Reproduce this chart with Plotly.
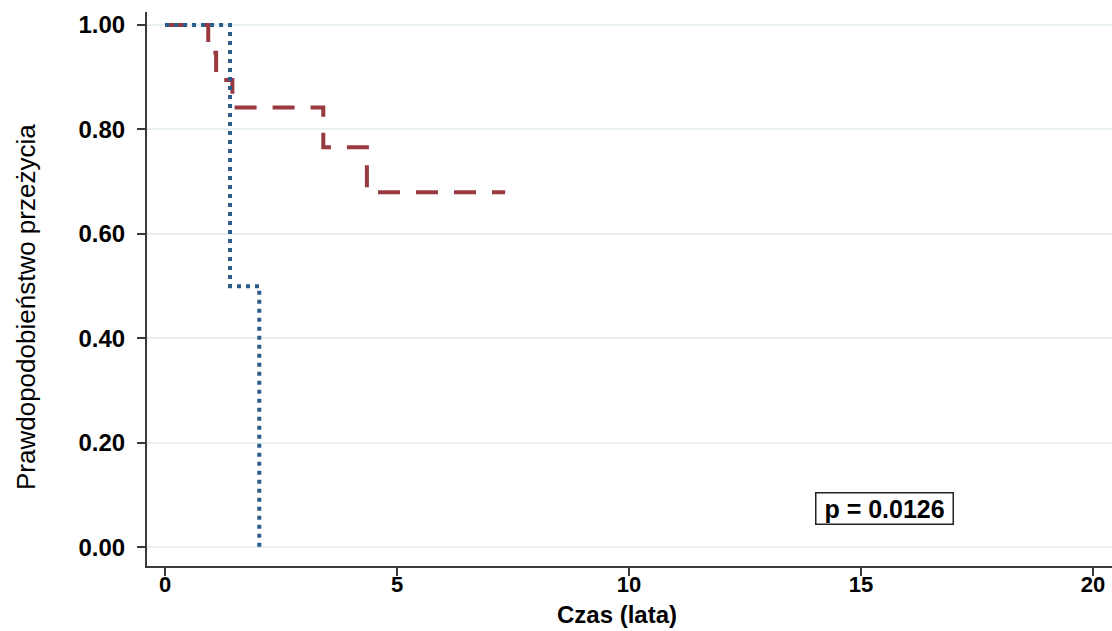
import plotly.graph_objects as go

# Kaplan-Meier step data (time in years, survival probability)
red_time = [0.0, 0.93, 1.10, 1.45, 3.41, 4.35, 7.33]
red_surv = [1.0, 0.947, 0.895, 0.842, 0.766, 0.680, 0.680]

blue_time = [0.0, 1.40, 2.03]
blue_surv = [1.0, 0.50, 0.00]

x_ticks = [0, 5, 10, 15, 20]
y_ticks = [0.0, 0.2, 0.4, 0.6, 0.8, 1.0]
y_labels = ["0.00", "0.20", "0.40", "0.60", "0.80", "1.00"]

p_text = "p = 0.0126"
x_title = "Czas (lata)"
y_title = "Prawdopodobieństwo przeżycia"

FONT = "Liberation Sans, Arial, sans-serif"

fig = go.Figure()
fig.add_trace(go.Scatter(
    x=red_time, y=red_surv, mode="lines", line_shape="hv",
    line=dict(color="#993a41", width=4, dash="22px,16px"),
    showlegend=False, hoverinfo="skip"))
fig.add_trace(go.Scatter(
    x=blue_time, y=blue_surv, mode="lines", line_shape="hv",
    line=dict(color="#2b5c8a", width=4, dash="4px,5px"),
    showlegend=False, hoverinfo="skip"))

fig.add_annotation(
    x=15.5, y=0.075, xref="x", yref="y",
    text="<b>&nbsp;" + p_text + "&nbsp;</b>",
    showarrow=False,
    font=dict(family=FONT, size=25, color="black"),
    bordercolor="#222", borderwidth=1.5, borderpad=1, bgcolor="white")

fig.add_annotation(
    x=(617 - 147) / 965, y=(566 - 614) / 554, xref="paper", yref="paper",
    text="<b>" + x_title + "</b>",
    showarrow=False, yanchor="middle", xanchor="center",
    font=dict(family=FONT, size=24, color="black"))
fig.add_annotation(
    x=(26 - 147) / 965, y=(566 - 307) / 554, xref="paper", yref="paper",
    text=y_title,
    showarrow=False, textangle=-90, xanchor="center", yanchor="middle",
    font=dict(family=FONT, size=26, color="black"))

fig.update_layout(
    width=1112, height=631,
    margin=dict(l=147, r=0, t=12, b=65),
    paper_bgcolor="white", plot_bgcolor="white",
    font=dict(family=FONT, color="black"),
    xaxis=dict(range=[-0.39, 20.41], tickvals=x_ticks,
               ticktext=["<b>%d</b>" % v for v in x_ticks], showgrid=False,
               zeroline=False, showline=True, linecolor="#3a3a3a", linewidth=2,
               ticks="outside", ticklen=8, tickwidth=2, tickcolor="#3a3a3a",
               ticklabelstandoff=-10,
               tickfont=dict(size=22, family=FONT, color="black")),
    yaxis=dict(range=[-0.036, 1.025], tickvals=y_ticks,
               ticktext=["<b>%s</b>" % s for s in y_labels],
               showgrid=True, gridcolor="#e9f0f1", gridwidth=2,
               zeroline=False, showline=True, linecolor="#3a3a3a", linewidth=2,
               ticks="outside", ticklen=8, tickwidth=2, tickcolor="#3a3a3a",
               ticklabelstandoff=7,
               tickfont=dict(size=24, family=FONT, color="black")),
)

fig.write_html("out.html")
